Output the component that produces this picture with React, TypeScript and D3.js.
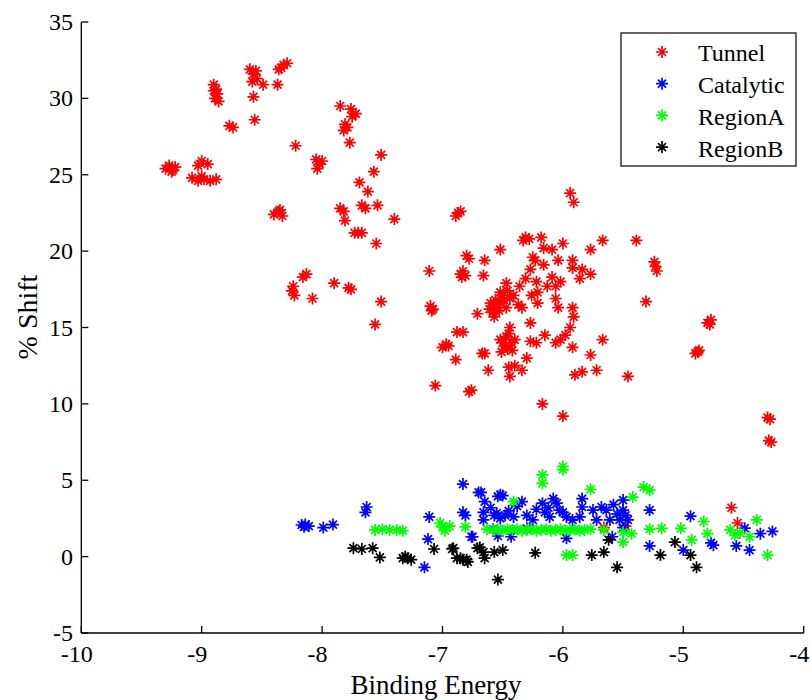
import React from "react";
import * as d3 from "d3";

const seriesNames = ["Tunnel", "Catalytic", "RegionA", "RegionB"];
const seriesColors = ["#ff0000", "#0000ff", "#00ff00", "#000000"];
const xTicks = [-10, -9, -8, -7, -6, -5, -4];
const yTicks = [-5, 0, 5, 10, 15, 20, 25, 30, 35];

const tunnelPoints: [number, number][] = [
  [-9.3, 25.4], [-9.27, 25.6], [-9.24, 25.3], [-9.22, 25.5], [-9.25, 25.2],
  [-9.0, 25.9], [-8.95, 25.7], [-9.03, 25.6],
  [-9.08, 24.8], [-9.03, 24.6], [-8.98, 24.7], [-8.93, 24.6], [-8.88, 24.7], [-9.0, 24.9],
  [-8.9, 30.9], [-8.88, 30.6], [-8.87, 30.3], [-8.89, 30.0], [-8.86, 29.8], [-8.9, 30.5],
  [-8.77, 28.2], [-8.74, 28.1],
  [-8.6, 31.9], [-8.57, 31.6], [-8.54, 31.3], [-8.58, 31.1], [-8.55, 31.8],
  [-8.49, 30.9], [-8.57, 30.1], [-8.56, 28.6],
  [-8.36, 31.9], [-8.32, 32.2], [-8.29, 32.3], [-8.34, 32.0],
  [-8.37, 30.9], [-8.22, 26.9],
  [-8.05, 26.0], [-8.02, 25.7], [-8.04, 25.4], [-8.0, 25.9],
  [-8.4, 22.4], [-8.36, 22.6], [-8.33, 22.3], [-8.35, 22.7],
  [-7.85, 29.5], [-7.76, 29.3], [-7.72, 29.0], [-7.75, 28.8],
  [-7.81, 28.3], [-7.82, 27.9], [-7.79, 28.1],
  [-7.77, 27.1], [-7.51, 26.3], [-7.57, 25.2], [-7.69, 24.5], [-7.62, 23.9],
  [-7.85, 22.8], [-7.82, 22.6], [-7.81, 22.0],
  [-7.67, 23.0], [-7.64, 22.8], [-7.54, 23.0], [-7.4, 22.1],
  [-7.73, 21.2], [-7.7, 21.2], [-7.67, 21.2], [-7.55, 20.5],
  [-8.25, 17.4], [-8.24, 17.7], [-8.23, 17.1], [-8.16, 18.3], [-8.13, 18.5], [-8.08, 16.9],
  [-7.9, 17.9], [-7.78, 17.6], [-7.76, 17.5], [-7.51, 16.7], [-7.56, 15.2],
  [-7.1, 16.4], [-7.08, 16.2], [-7.09, 16.1],
  [-5.94, 23.8], [-5.91, 23.2],
  [-6.87, 22.5], [-6.89, 22.3], [-6.85, 22.6],
  [-6.31, 20.9], [-6.28, 20.8], [-6.33, 20.7],
  [-6.18, 20.9], [-6.0, 20.5], [-5.67, 20.7], [-5.39, 20.7],
  [-5.23, 19.0], [-5.22, 18.7], [-5.24, 19.3],
  [-5.77, 20.1], [-6.52, 20.1],
  [-6.8, 19.7], [-6.78, 19.5], [-6.65, 19.4],
  [-6.85, 18.5], [-6.83, 18.7], [-6.81, 18.4], [-6.84, 18.3], [-6.66, 18.4],
  [-7.11, 18.7],
  [-6.16, 20.2], [-6.09, 20.1], [-6.04, 19.4], [-5.92, 19.4],
  [-6.23, 19.4], [-6.25, 19.6], [-6.16, 19.1], [-6.27, 18.8],
  [-5.92, 18.9], [-5.84, 18.8], [-5.77, 18.5], [-5.86, 18.2],
  [-6.09, 18.3], [-6.02, 18.0], [-6.13, 17.7], [-6.06, 17.7],
  [-6.31, 18.2], [-6.36, 17.7], [-6.22, 18.0], [-6.21, 17.3],
  [-6.47, 17.9], [-6.52, 17.3], [-6.5, 17.1], [-6.41, 17.1], [-6.44, 16.9],
  [-6.37, 16.5], [-6.34, 16.3], [-6.26, 17.1], [-6.21, 16.6],
  [-6.6, 16.6], [-6.54, 16.5], [-6.58, 16.0], [-6.55, 16.3], [-6.47, 16.3], [-6.57, 15.7], [-6.61, 16.2], [-6.56, 16.8],
  [-6.52, 16.6], [-6.49, 16.8], [-6.53, 16.1], [-6.46, 17.4],
  [-6.71, 15.9],
  [-6.06, 16.9], [-6.04, 16.3], [-5.92, 16.3], [-5.91, 15.7], [-5.94, 15.0], [-5.98, 14.5], [-6.02, 14.2], [-6.06, 14.0], [-5.92, 13.7],
  [-5.77, 13.2], [-5.67, 14.2], [-5.31, 16.7],
  [-5.46, 11.8], [-5.72, 12.2], [-5.84, 12.1], [-5.9, 11.9],
  [-6.15, 14.5], [-6.27, 15.3], [-6.27, 14.1], [-6.22, 14.0], [-6.3, 13.0],
  [-6.44, 15.0], [-6.47, 14.4], [-6.4, 14.2], [-6.5, 14.0], [-6.51, 13.4], [-6.42, 13.5], [-6.48, 13.8], [-6.45, 14.6],
  [-6.46, 13.6], [-6.43, 14.0], [-6.52, 14.2],
  [-6.45, 12.4], [-6.4, 12.5], [-6.34, 12.2], [-6.44, 11.8], [-6.62, 12.2],
  [-6.88, 14.7], [-6.83, 14.7], [-6.97, 13.9], [-7.0, 13.7], [-6.95, 13.8], [-6.89, 12.9],
  [-6.67, 13.3], [-6.65, 13.3],
  [-7.06, 11.2], [-6.78, 10.8], [-6.76, 10.9],
  [-6.17, 10.0], [-6.0, 9.2],
  [-4.9, 13.3], [-4.87, 13.5], [-4.88, 13.4],
  [-4.8, 15.3], [-4.77, 15.5], [-4.78, 15.2],
  [-4.3, 9.1], [-4.28, 9.0], [-4.29, 7.6], [-4.27, 7.5],
  [-4.6, 3.2], [-4.55, 2.2], [-5.66, 1.9], [-5.48, 2.0],
];

const catalyticPoints: [number, number][] = [
  [-8.17, 2.07], [-8.14, 2.1], [-8.11, 2.0], [-8.15, 1.95], [-7.99, 1.9], [-7.91, 2.1],
  [-7.63, 3.25], [-7.64, 2.9],
  [-7.11, 2.6], [-7.12, 1.15], [-7.15, -0.7],
  [-6.83, 4.75], [-6.81, 2.7], [-6.83, 2.9], [-6.75, 1.3], [-6.7, 4.2],
  [-6.68, 4.2], [-6.65, 3.6], [-6.52, 4.05], [-6.5, 4.0], [-6.54, 3.95],
  [-6.66, 2.9], [-6.66, 2.4], [-6.55, 2.85], [-6.57, 2.7], [-6.48, 2.7], [-6.41, 2.6],
  [-6.6, 3.2], [-6.45, 3.0], [-6.38, 3.3], [-6.52, 2.5],
  [-6.34, 3.6], [-6.3, 2.7], [-6.25, 2.4], [-6.17, 3.5], [-6.15, 2.9],
  [-6.22, 3.1], [-6.12, 3.2], [-6.0, 2.9],
  [-6.08, 3.8], [-6.05, 3.5], [-6.03, 3.05], [-6.11, 2.6], [-5.97, 2.6], [-5.92, 2.4],
  [-5.84, 3.8], [-5.84, 3.25], [-5.86, 2.6], [-5.75, 3.05], [-5.68, 3.25], [-5.64, 3.05],
  [-5.72, 2.4], [-5.61, 2.4], [-5.5, 3.7], [-5.5, 3.05], [-5.53, 2.4], [-5.46, 2.4], [-5.5, 1.9],
  [-5.55, 2.8], [-5.48, 2.7], [-5.58, 3.4],
  [-6.54, 1.35], [-6.43, 1.3], [-6.76, 1.3], [-5.97, 1.2], [-5.59, 1.3],
  [-5.28, 3.05], [-5.28, 0.7], [-5.0, 0.43], [-4.94, 2.65], [-4.75, 0.75], [-4.77, 0.9],
  [-4.49, 1.86], [-4.56, 0.7], [-4.45, 0.43], [-4.36, 1.5], [-4.26, 1.65],
  [-6.3, 1.85], [-6.58, 1.8],
];

const regionAPoints: [number, number][] = [
  [-7.56, 1.75], [-7.5, 1.8], [-7.44, 1.75], [-7.38, 1.75], [-7.33, 1.7],
  [-7.02, 2.2], [-7.0, 1.95], [-6.98, 1.7], [-6.94, 2.0],
  [-6.81, 1.95], [-6.63, 1.8],
  [-6.58, 1.75], [-6.54, 1.8], [-6.5, 1.7], [-6.46, 1.8], [-6.42, 1.75], [-6.38, 1.8],
  [-6.34, 1.7], [-6.3, 1.75], [-6.26, 1.8], [-6.22, 1.7], [-6.18, 1.75], [-6.14, 1.8],
  [-6.1, 1.7], [-6.06, 1.75], [-6.02, 1.8], [-5.98, 1.7], [-5.94, 1.75], [-5.9, 1.8],
  [-5.86, 1.7], [-5.82, 1.75], [-5.77, 1.8],
  [-6.17, 5.35], [-6.17, 4.8], [-6.0, 5.9], [-6.0, 5.7], [-6.41, 3.6], [-5.77, 4.4],
  [-5.33, 4.55], [-5.28, 4.35], [-5.42, 3.9],
  [-5.97, 0.1], [-5.92, 0.1], [-5.5, 0.95], [-5.43, 1.5], [-5.5, 1.6], [-5.66, 1.75],
  [-5.28, 1.8], [-5.18, 1.85], [-5.02, 1.85], [-4.93, 1.1], [-4.83, 2.3], [-4.8, 1.5],
  [-4.61, 1.75], [-4.57, 1.4], [-4.53, 1.55], [-4.45, 1.3], [-4.39, 2.4], [-4.3, 0.1],
];

const regionBPoints: [number, number][] = [
  [-7.74, 0.55], [-7.67, 0.5], [-7.58, 0.55], [-7.52, -0.05],
  [-7.33, -0.1], [-7.29, -0.1], [-7.26, -0.2], [-7.31, 0.0],
  [-7.07, 0.5], [-6.92, 0.5], [-6.88, -0.1], [-6.83, -0.2], [-6.79, -0.35], [-6.71, 0.55],
  [-6.91, 0.55], [-6.85, -0.1], [-6.8, -0.2],
  [-6.69, 0.6], [-6.66, 0.3], [-6.65, -0.1], [-6.57, 0.3], [-6.5, 0.43], [-6.54, -1.5],
  [-6.23, 0.25], [-5.76, 0.1], [-5.66, 0.3], [-5.62, 1.1], [-5.55, -0.7],
  [-5.19, 0.1], [-5.07, 0.95], [-4.94, 0.1], [-4.89, -0.7],
];

const allSeries = [tunnelPoints, catalyticPoints, regionAPoints, regionBPoints];

const W = 811;
const H = 700;
const x = d3.scaleLinear().domain([-10, -4]).range([81.3, 803.7]);
const y = d3.scaleLinear().domain([-5, 35]).range([633, 22]);

const star = "M-6,0H6M0,-6V6M-4,-4L4,4M-4,4L4,-4";
const font = "'Liberation Serif', 'Times New Roman', serif";

export default function App() {
  const [x0, x1] = x.range();
  const [y0, y1] = y.range();
  const legendX = 621;
  const legendY = 33;
  return (
    <svg
      width={W}
      height={H}
      style={{ position: "absolute", left: 0, top: 0, background: "#fff" }}
      fontFamily={font}
    >
      <rect x={0} y={0} width={W} height={H} fill="#fff" />
      {allSeries.map((pts, si) => (
        <g key={si} stroke={seriesColors[si]} strokeWidth={1.7} fill="none">
          {pts.map((p, i) => (
            <path key={i} d={star} transform={`translate(${x(p[0])},${y(p[1])})`} />
          ))}
        </g>
      ))}
      {/* axes */}
      <g stroke="#000" strokeWidth={1.3} fill="none">
        <line x1={x0} y1={y0} x2={x1} y2={y0} />
        <line x1={x0} y1={y0} x2={x0} y2={y1} />
        {xTicks.map((t) => (
          <line key={t} x1={x(t)} x2={x(t)} y1={y0} y2={y0 - 7} />
        ))}
        {yTicks.map((t) => (
          <line key={t} x1={x0} x2={x0 + 7} y1={y(t)} y2={y(t)} />
        ))}
      </g>
      <g fontSize={24} fill="#000">
        {xTicks.map((t) => (
          <text key={t} x={x(t) - 4.5} y={y0 + 29} textAnchor="middle">
            {t}
          </text>
        ))}
        {yTicks.map((t) => (
          <text key={t} x={73} y={y(t) + 8} textAnchor="end">
            {t}
          </text>
        ))}
      </g>
      <text x={436} y={694} fontSize={27} textAnchor="middle" fill="#000">
        Binding Energy
      </text>
      <text
        transform={`translate(37,317) rotate(-90)`}
        fontSize={28}
        textAnchor="middle"
        fill="#000"
      >
        % Shift
      </text>
      {/* legend */}
      <rect x={legendX} y={legendY} width={175} height={133} fill="#fff" stroke="#333" strokeWidth={1.5} />
      {seriesNames.map((name, i) => (
        <g key={name}>
          <path
            d={star}
            transform={`translate(662,${52 + i * 31.7})`}
            stroke={seriesColors[i]}
            strokeWidth={1.7}
            fill="none"
          />
          <text x={698} y={61 + i * 31.9} fontSize={24} fill="#000">
            {name}
          </text>
        </g>
      ))}
    </svg>
  );
}
